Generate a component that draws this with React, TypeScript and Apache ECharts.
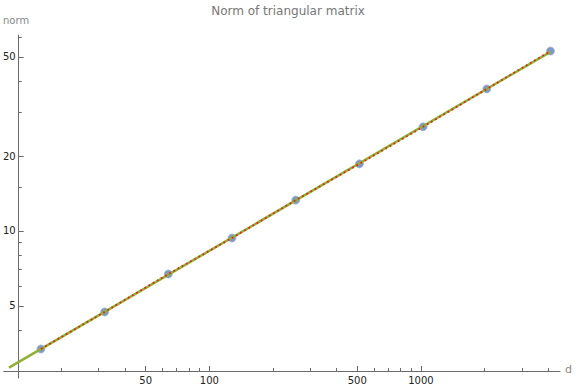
import { useEffect, useRef } from "react";
import * as echarts from "echarts";

const dims = [16, 32, 64, 128, 256, 512, 1024, 2048, 4096];
const norms = [3.36, 4.73, 6.72, 9.37, 13.3, 18.6, 26.2, 37.2, 52.8];
const xMajorTicks = [50, 100, 500, 1000];
const xMinorTicks = [20, 30, 40, 60, 70, 80, 90, 200, 300, 400, 600, 700, 800, 900, 2000, 3000, 4000];
const yMajorTicks = [5, 10, 20, 50];
const yMinorTicks = [4, 6, 7, 8, 9, 15, 30, 40, 60];
const xRange = [10.67, 4543];
const yRange = [2.568, 61.25];
const fitStartD = 11.3;

const FONT = "DejaVu Sans";
const lg = (v: number) => Math.log10(v);

function fitPowerLaw(xs: number[], ys: number[]) {
  const lx = xs.map(lg);
  const ly = ys.map(lg);
  const n = lx.length;
  const mx = lx.reduce((s, v) => s + v, 0) / n;
  const my = ly.reduce((s, v) => s + v, 0) / n;
  let num = 0;
  let den = 0;
  for (let i = 0; i < n; i++) {
    num += (lx[i] - mx) * (ly[i] - my);
    den += (lx[i] - mx) * (lx[i] - mx);
  }
  const b = num / den;
  const la = my - b * mx;
  return { b, la };
}

export default function App() {
  const ref = useRef<HTMLDivElement>(null);
  useEffect(() => {
    if (!ref.current) return;
    const chart = echarts.init(ref.current, undefined, { renderer: "svg" });
    const { b, la } = fitPowerLaw(dims, norms);
    const fitEnd = dims[dims.length - 1];
    const fitData = [fitStartD, fitEnd].map((d) => [lg(d), la + b * lg(d)]);
    const pts = dims.map((d, i) => [lg(d), lg(norms[i])]);
    const fmt = (v: number) => String(Math.round(Math.pow(10, v)));
    const axisColor = "#6b6b6b";

    const xBase = {
      type: "value" as const,
      min: lg(xRange[0]),
      max: lg(xRange[1]),
      position: "bottom" as const,
      offset: -7,
      splitLine: { show: false },
    };
    const yBase = {
      type: "value" as const,
      min: lg(yRange[0]),
      max: lg(yRange[1]),
      position: "left" as const,
      offset: -15,
      splitLine: { show: false },
    };

    chart.setOption({
      animation: false,
      title: {
        text: "Norm of triangular matrix",
        left: "center",
        top: 0,
        textStyle: { fontFamily: FONT, fontSize: 12, fontWeight: "normal", color: "#777" },
      },
      grid: { left: 0, right: 16, top: 35, bottom: 11, containLabel: false },
      xAxis: [
        {
          ...xBase,
          axisLine: { show: true, onZero: false, lineStyle: { color: axisColor, width: 1 } },
          axisTick: {
            show: true,
            inside: true,
            length: 5,
            customValues: xMajorTicks.map(lg),
            lineStyle: { color: axisColor },
          },
          axisLabel: {
            show: true,
            customValues: xMajorTicks.map(lg),
            formatter: fmt,
            margin: 4,
            fontFamily: FONT,
            fontSize: 10,
            color: "#222",
          },
        },
        {
          ...xBase,
          axisLine: { show: false, onZero: false },
          axisTick: {
            show: true,
            inside: true,
            length: 3,
            customValues: xMinorTicks.map(lg),
            lineStyle: { color: axisColor },
          },
          axisLabel: { show: false },
        },
      ],
      yAxis: [
        {
          ...yBase,
          axisLine: { show: true, onZero: false, lineStyle: { color: axisColor, width: 1 } },
          axisTick: {
            show: true,
            inside: true,
            length: 5,
            customValues: yMajorTicks.map(lg),
            lineStyle: { color: axisColor },
          },
          axisLabel: {
            show: true,
            customValues: yMajorTicks.map(lg),
            formatter: fmt,
            margin: 3,
            fontFamily: FONT,
            fontSize: 10,
            color: "#222",
          },
        },
        {
          ...yBase,
          axisLine: { show: false, onZero: false },
          axisTick: {
            show: true,
            inside: true,
            length: 3,
            customValues: yMinorTicks.map(lg),
            lineStyle: { color: axisColor },
          },
          axisLabel: { show: false },
        },
      ],
      graphic: [
        {
          type: "text",
          left: 3,
          top: 15,
          style: { text: "norm", fontFamily: FONT, fontSize: 10, fill: "#888" },
        },
        {
          type: "text",
          left: 565,
          top: 364,
          style: { text: "d", fontFamily: FONT, fontSize: 11, fill: "#888" },
        },
      ],
      series: [
        {
          type: "scatter",
          xAxisIndex: 0,
          yAxisIndex: 0,
          data: pts,
          symbolSize: 8,
          z: 2,
          itemStyle: { color: "#5E81B5", borderColor: "#9db3d8", borderWidth: 1 },
        },
        {
          type: "line",
          xAxisIndex: 0,
          yAxisIndex: 0,
          data: fitData,
          showSymbol: false,
          z: 3,
          lineStyle: { color: "#8FB032", width: 2.5 },
        },
        {
          type: "line",
          xAxisIndex: 0,
          yAxisIndex: 0,
          data: pts,
          showSymbol: false,
          z: 4,
          lineStyle: { color: "#E8241B", width: 1.8, type: [1.8, 3] },
        },
      ],
    });
    return () => chart.dispose();
  }, []);
  return (
    <div
      ref={ref}
      style={{ position: "fixed", left: 0, top: 0, width: 576, height: 389, background: "#fff" }}
    />
  );
}
